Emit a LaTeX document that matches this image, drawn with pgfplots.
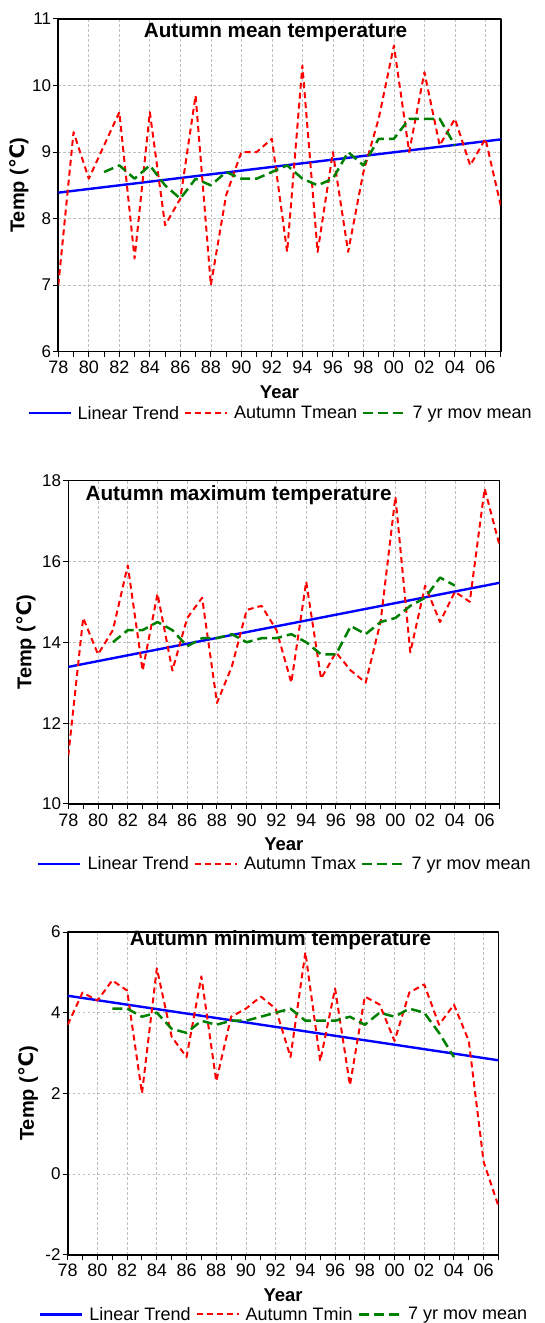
\documentclass[border=0pt]{standalone}
\usepackage{fontspec}
\setmainfont{Liberation Sans}
\newfontfamily\dejavu{DejaVu Sans}
\usepackage{pgfplots}
\usepackage{pgfplotstable}
\pgfplotsset{compat=1.18}

\definecolor{tblue}{RGB}{0,0,255}
\definecolor{tred}{RGB}{255,0,0}
\definecolor{tgreen}{RGB}{0,128,0}
\definecolor{gridgray}{RGB}{190,190,190}

% ---------- Panel 1: mean ----------
\pgfplotstableread{
year val
1978 7.0
1979 9.3
1980 8.6
1981 9.1
1982 9.6
1983 7.4
1984 9.6
1985 7.9
1986 8.3
1987 9.85
1988 7.0
1989 8.35
1990 9.0
1991 9.0
1992 9.2
1993 7.5
1994 10.3
1995 7.5
1996 9.0
1997 7.5
1998 8.7
1999 9.5
2000 10.6
2001 9.0
2002 10.2
2003 9.1
2004 9.5
2005 8.8
2006 9.2
2007 8.2
}\tmean
\pgfplotstableread{
year val
1981 8.7
1982 8.8
1983 8.6
1984 8.8
1985 8.5
1986 8.3
1987 8.6
1988 8.5
1989 8.7
1990 8.6
1991 8.6
1992 8.7
1993 8.8
1994 8.6
1995 8.5
1996 8.6
1997 9.0
1998 8.8
1999 9.2
2000 9.2
2001 9.5
2002 9.5
2003 9.5
2004 9.1
}\mamean
% ---------- Panel 2: max ----------
\pgfplotstableread{
year val
1978 11.2
1979 14.6
1980 13.7
1981 14.3
1982 15.9
1983 13.3
1984 15.2
1985 13.3
1986 14.6
1987 15.1
1988 12.5
1989 13.4
1990 14.8
1991 14.9
1992 14.3
1993 13.0
1994 15.5
1995 13.1
1996 13.75
1997 13.3
1998 13.0
1999 14.5
2000 17.6
2001 13.75
2002 15.4
2003 14.5
2004 15.25
2005 15.0
2006 17.8
2007 16.4
}\tmax
\pgfplotstableread{
year val
1981 14.0
1982 14.3
1983 14.3
1984 14.5
1985 14.3
1986 13.9
1987 14.1
1988 14.1
1989 14.2
1990 14.0
1991 14.1
1992 14.1
1993 14.2
1994 14.0
1995 13.7
1996 13.7
1997 14.4
1998 14.2
1999 14.5
2000 14.6
2001 14.9
2002 15.1
2003 15.6
2004 15.4
}\mamax
% ---------- Panel 3: min ----------
\pgfplotstableread{
year val
1978 3.7
1979 4.5
1980 4.3
1981 4.8
1982 4.55
1983 2.0
1984 5.1
1985 3.4
1986 2.9
1987 4.9
1988 2.3
1989 3.9
1990 4.1
1991 4.4
1992 4.1
1993 2.9
1994 5.5
1995 2.8
1996 4.6
1997 2.2
1998 4.4
1999 4.2
2000 3.3
2001 4.5
2002 4.7
2003 3.7
2004 4.2
2005 3.3
2006 0.3
2007 -0.8
}\tmin
\pgfplotstableread{
year val
1981 4.1
1982 4.1
1983 3.9
1984 4.0
1985 3.6
1986 3.5
1987 3.8
1988 3.7
1989 3.8
1990 3.8
1991 3.9
1992 4.0
1993 4.1
1994 3.8
1995 3.8
1996 3.8
1997 3.9
1998 3.7
1999 4.0
2000 3.9
2001 4.1
2002 4.0
2003 3.5
2004 2.9
}\mamin

\pgfplotsset{
  panel/.style={
    scale only axis,
    anchor=south west,
    xmin=1978, xmax=2007,
    xtick={1978,1980,...,2006},
    xticklabels={78,80,82,84,86,88,90,92,94,96,98,00,02,04,06},
    minor xtick={1979,1981,...,2007},
    tick align=outside,
    tick pos=left,
    major tick length=5pt,
    minor tick length=5pt,
    every tick/.style={black, line width=1pt},
    xmajorgrids, ymajorgrids,
    major grid style={gridgray, dash pattern=on 2.5pt off 2.5pt, line width=0.7pt},
    axis line style={line width=1.6pt, black},
    /pgf/number format/assume math mode=true,
    xticklabel style={font=\fontsize{18}{20}\selectfont, inner sep=2pt, yshift=-2.5pt},
    yticklabel style={font=\fontsize{17}{20}\selectfont, inner sep=2pt},
    xlabel={Year},
    xlabel style={at={(axis description cs:0.5,0)}, anchor=base, yshift=-47pt, font=\bfseries\fontsize{18.5}{21}\selectfont},
    ylabel={Temp ({\dejavu\bfseries ℃})},
    ylabel style={anchor=center, font=\bfseries\fontsize{20}{22}\selectfont},
    title style={font=\bfseries\fontsize{20.7}{23}\selectfont},
    legend columns=3,
    legend cell align=left,
    legend image code/.code={\draw[##1] (0pt,0pt) -- (42pt,0pt);},
    legend style={at={(axis description cs:0.5,-0.185)}, anchor=center, draw=none, fill=none,
      font=\fontsize{18}{20}\selectfont, inner sep=0pt, nodes={inner sep=0pt},
      /tikz/every odd column/.append style={column sep=6pt},
      /tikz/every even column/.append style={column sep=5pt}},
    line join=round,
  },
  trend/.style={tblue, line width=2.4pt},
  obs/.style={tred, line width=2pt, dash pattern=on 6pt off 4pt},
  mov/.style={tgreen, line width=2.5pt, dash pattern=on 10pt off 5pt},
}

\begin{document}
\begin{tikzpicture}
\useasboundingbox (0pt,0pt) rectangle (545pt,1323pt);

% Panel 1
\begin{axis}[panel,
  at={(58.3pt,971.3pt)}, width=442.4pt, height=332.7pt,
  ymin=6, ymax=11, ytick={6,7,...,11},
  ylabel style={at={(axis description cs:-0.089,0.5)}},
  title={Autumn mean temperature},
  title style={at={(axis description cs:0.491,0.925)}, anchor=base},
]
\addplot[trend] coordinates {(1978,8.39) (2007,9.19)};
\addplot[obs] table[x=year,y=val] {\tmean};
\addplot[mov] table[x=year,y=val] {\mamean};
\legend{Linear Trend, Autumn Tmean, 7 yr mov mean}
\end{axis}

% Panel 2
\begin{axis}[panel,
  at={(68.3pt,519pt)}, width=431.2pt, height=323.5pt,
  ymin=10, ymax=18, ytick={10,12,...,18},
  ylabel style={at={(axis description cs:-0.098,0.5)}},
  title={Autumn maximum temperature},
  title style={at={(axis description cs:0.032,0.919)}, anchor=base west},
]
\addplot[trend] coordinates {(1978,13.39) (2007,15.47)};
\addplot[obs] table[x=year,y=val] {\tmax};
\addplot[mov] table[x=year,y=val] {\mamax};
\legend{Linear Trend, Autumn Tmax, 7 yr mov mean}
\end{axis}

% Panel 3
\begin{axis}[panel,
  at={(67.7pt,68.3pt)}, width=430.8pt, height=322.7pt,
  ymin=-2, ymax=6, ytick={-2,0,...,6},
  ylabel style={at={(axis description cs:-0.091,0.5)}},
  title={Autumn minimum temperature},
  title style={at={(axis description cs:0.494,0.94)}, anchor=base},
]
\addplot[trend] coordinates {(1978,4.42) (2007,2.82)};
\addplot[obs] table[x=year,y=val] {\tmin};
\addplot[mov] table[x=year,y=val] {\mamin};
\legend{Linear Trend, Autumn Tmin, 7 yr mov mean}
\end{axis}
\end{tikzpicture}
\end{document}
